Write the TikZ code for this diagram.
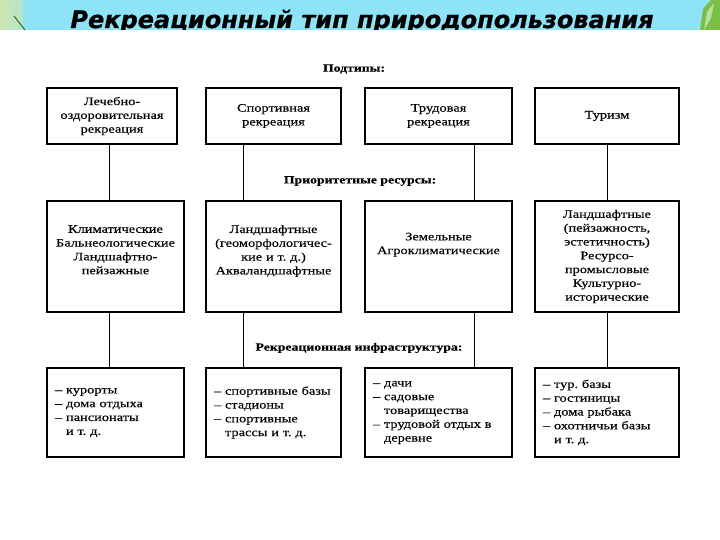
\documentclass[tikz,border=0pt]{standalone}
\usepackage{fontspec}
\setmainfont{Liberation Serif}[FakeStretch=1.25, FakeBold=0.3]
\newfontfamily\titlefont{DejaVu Sans}[FakeBold=0.6]
\definecolor{bandblue}{HTML}{8EE3F7}
\definecolor{leafpale}{HTML}{CFE6AE}
\definecolor{leafgreen}{HTML}{79BE45}
\definecolor{leafdark}{HTML}{4E8F2A}

\begin{document}
\begin{tikzpicture}[x=1pt,y=-1pt,
    box/.style={draw, line width=1.2pt, inner xsep=6pt, inner ysep=3pt, align=center,
      font=\fontsize{11.5}{13.8}\selectfont},
    lbox/.style={box, align=left, inner xsep=8pt},
    hdr/.style={font=\bfseries\fontsize{11}{13.5}\selectfont},
    conn/.style={line width=1pt},
    w1/.style={minimum width=137pt, text width=125pt},
    w2/.style={minimum width=135pt, text width=123pt},
    w3/.style={minimum width=147pt, text width=135pt},
    w4/.style={minimum width=144pt, text width=132pt}]
    \useasboundingbox[fill=white] (0,0) rectangle (720,540);

    % title band
    \fill[bandblue] (0,0) rectangle (720,30);
    \shade[left color=leafpale, right color=leafpale!60!bandblue] (0,0) rectangle (23,30);
    \draw[leafdark!70!black, line width=1pt] (14,16) -- (25,30);
    \fill[leafgreen] (700,30) -- (703,9) -- (711,0) -- (720,0) -- (720,30) -- cycle;
    \fill[leafgreen!50!white] (704,30) -- (707,12) -- (714,3) -- (711,18) -- cycle;
    \begin{scope}
      \clip (0,0) rectangle (720,30);
      \node[anchor=base, font=\titlefont\bfseries\itshape\fontsize{24}{24}\selectfont] (title) at (362,28) {Рекреационный тип природопользования};
    \end{scope}

    % subtypes
    \node[hdr] (h1) at (354,69) {Подтипы:};
    \node[box, minimum width=130pt, text width=118pt, minimum height=56pt] (r1c1) at (112,116) {Лечебно-\\оздоровительная\\рекреация};
    \node[box, w2, minimum height=56pt] (r1c2) at (273.5,116) {Спортивная\\рекреация};
    \node[box, w3, minimum height=56pt] (r1c3) at (438.5,116) {Трудовая\\рекреация};
    \node[box, w4, minimum height=56pt] (r1c4) at (607,116) {Туризм};

    % resources
    \node[hdr] (h2) at (360,181) {Приоритетные ресурсы:};
    \node[box, w1, minimum height=111pt, text depth=55pt] (r2c1) at (115.5,256.5) {Климатические\\Бальнеологические\\\mbox{Ландшафтно-}\\пейзажные};
    \node[box, w2, minimum height=111pt, text depth=55pt] (r2c2) at (273.5,256.5) {Ландшафтные\\\mbox{(геоморфологичес-}\\кие и т.~д.)\\Акваландшафтные};
    \node[box, w3, minimum height=111pt, text depth=40pt] (r2c3) at (438.5,256.5) {Земельные\\Агроклиматические};
    \node[box, w4, minimum height=111pt] (r2c4) at (607,256.5) {Ландшафтные\\(пейзажность,\\эстетичность)\\\mbox{Ресурсо-}\\промысловые\\\mbox{Культурно-}\\исторические};

    % infrastructure
    \node[hdr] (h3) at (359,348) {Рекреационная инфраструктура:};
    \node[lbox, minimum width=137pt, text width=121pt, minimum height=89pt] (r3c1) at (115.5,412.5) {– курорты\\– дома~отдыха\\– пансионаты\\\phantom{– }и т.~д.};
    \node[lbox, minimum width=135pt, text width=119pt, minimum height=89pt] (r3c2) at (273.5,412.5) {– спортивные~базы\\– стадионы\\– спортивные\\\phantom{– }трассы~и~т.~д.};
    \node[lbox, minimum width=147pt, text width=131pt, minimum height=89pt] (r3c3) at (438.5,412.5) {– дачи\\– садовые\\\phantom{– }товарищества\\– трудовой~отдых~в\\\phantom{– }деревне};
    \node[lbox, minimum width=144pt, text width=128pt, minimum height=89pt] (r3c4) at (607,412.5) {– тур.\ базы\\– гостиницы\\– дома~рыбака\\– охотничьи~базы\\\phantom{– }и т.~д.};

    % links
    \coordinate (x1) at (109,0);
    \coordinate (x2) at (243,0);
    \coordinate (x3) at (474,0);
    \coordinate (x4) at (607,0);
    \foreach \c in {1,2,3,4} {
      \draw[conn] (r1c\c.south -| x\c) -- (r2c\c.north -| x\c);
      \draw[conn] (r2c\c.south -| x\c) -- (r3c\c.north -| x\c);
    }
\end{tikzpicture}
\end{document}
